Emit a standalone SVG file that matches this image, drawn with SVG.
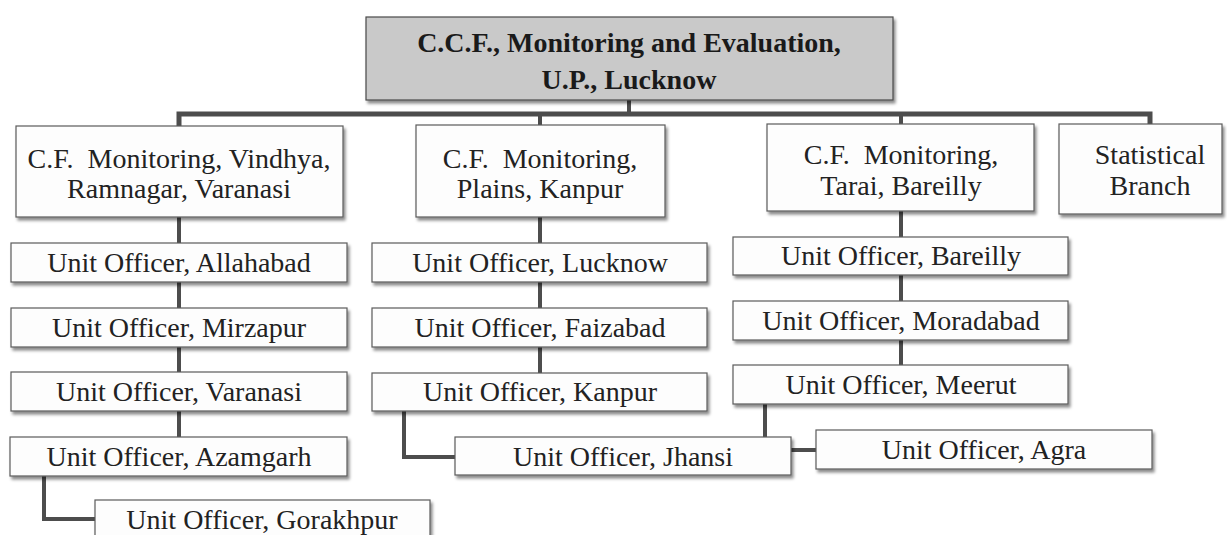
<svg xmlns="http://www.w3.org/2000/svg" width="1227" height="535" viewBox="0 0 1227 535">
<defs>
<filter id="sh" x="-5%" y="-20%" width="110%" height="150%">
<feDropShadow dx="2" dy="3" stdDeviation="1.5" flood-color="#000" flood-opacity="0.45"/>
</filter>
</defs>
<style>
.box{fill:#fdfdfd;stroke:#5a5a5a;stroke-width:1.2;filter:url(#sh)}
.top{fill:#c9c9c9;stroke:#4a4a4a;stroke-width:1.2;filter:url(#sh)}
.t{font-size:28px;fill:#222;text-anchor:middle}
.tb{font-size:28px;font-weight:bold;fill:#1a1a1a;text-anchor:middle}
.c{fill:none;stroke:#4d4d4d;stroke-width:4}
</style>
<rect width="1227" height="535" fill="#fff"/>
<g id="connectors">
<path class="c" d="M629 100V114"/>
<path class="c" style="stroke-width:5" d="M179 126V114H1150V124"/>
<path class="c" d="M540 114V126M901 114V124"/>
<path class="c" d="M179 217V243M179 282V308M179 347V372M179 411V437"/>
<path class="c" d="M44 476V519H95"/>
<path class="c" d="M540 217V243M540 282V308M540 347V373"/>
<path class="c" d="M404 411V457H455"/>
<path class="c" d="M901 211V237M901 275V301M901 340V365"/>
<path class="c" d="M765 404V437"/>
<path class="c" d="M791 450H816"/>
</g>
<g font-family="'Liberation Serif', 'Tinos', 'DejaVu Serif', serif">
<g id="ccf">
<rect class="top" x="366" y="17" width="527" height="83"/>
<text class="tb" x="629" y="52">C.C.F., Monitoring and Evaluation,</text>
<text class="tb" x="629" y="89">U.P., Lucknow</text>
</g>
<g id="cf-vindhya">
<rect class="box" x="16" y="126" width="327" height="91"/>
<text class="t" x="179" y="168" xml:space="preserve">C.F.  Monitoring, Vindhya,</text>
<text class="t" x="179" y="198">Ramnagar, Varanasi</text>
</g>
<g id="cf-plains">
<rect class="box" x="416" y="125" width="249" height="92"/>
<text class="t" x="540" y="168" xml:space="preserve">C.F.  Monitoring,</text>
<text class="t" x="540" y="198">Plains, Kanpur</text>
</g>
<g id="cf-tarai">
<rect class="box" x="767" y="124" width="267" height="87"/>
<text class="t" x="901" y="164" xml:space="preserve">C.F.  Monitoring,</text>
<text class="t" x="901" y="195">Tarai, Bareilly</text>
</g>
<g id="statistical">
<rect class="box" x="1059" y="124" width="163" height="90"/>
<text class="t" x="1150" y="164">Statistical</text>
<text class="t" x="1150" y="195">Branch</text>
</g>
<g id="uo-allahabad">
<rect class="box" x="11" y="243" width="336" height="39"/>
<text class="t" x="179" y="272">Unit Officer, Allahabad</text>
</g>
<g id="uo-mirzapur">
<rect class="box" x="11" y="308" width="336" height="39"/>
<text class="t" x="179" y="337">Unit Officer, Mirzapur</text>
</g>
<g id="uo-varanasi">
<rect class="box" x="11" y="372" width="336" height="39"/>
<text class="t" x="179" y="401">Unit Officer, Varanasi</text>
</g>
<g id="uo-azamgarh">
<rect class="box" x="10" y="437" width="337" height="39"/>
<text class="t" x="179" y="466">Unit Officer, Azamgarh</text>
</g>
<g id="uo-gorakhpur">
<rect class="box" x="95" y="500" width="335" height="42"/>
<text class="t" x="262" y="529">Unit Officer, Gorakhpur</text>
</g>
<g id="uo-lucknow">
<rect class="box" x="372" y="243" width="335" height="39"/>
<text class="t" x="540" y="272">Unit Officer, Lucknow</text>
</g>
<g id="uo-faizabad">
<rect class="box" x="372" y="308" width="335" height="39"/>
<text class="t" x="540" y="337">Unit Officer, Faizabad</text>
</g>
<g id="uo-kanpur">
<rect class="box" x="372" y="373" width="335" height="38"/>
<text class="t" x="540" y="401">Unit Officer, Kanpur</text>
</g>
<g id="uo-jhansi">
<rect class="box" x="455" y="437" width="336" height="38"/>
<text class="t" x="623" y="466">Unit Officer, Jhansi</text>
</g>
<g id="uo-bareilly">
<rect class="box" x="733" y="237" width="335" height="38"/>
<text class="t" x="901" y="265">Unit Officer, Bareilly</text>
</g>
<g id="uo-moradabad">
<rect class="box" x="733" y="301" width="335" height="39"/>
<text class="t" x="901" y="330">Unit Officer, Moradabad</text>
</g>
<g id="uo-meerut">
<rect class="box" x="733" y="365" width="335" height="39"/>
<text class="t" x="901" y="394">Unit Officer, Meerut</text>
</g>
<g id="uo-agra">
<rect class="box" x="816" y="430" width="336" height="39"/>
<text class="t" x="984" y="459">Unit Officer, Agra</text>
</g>
</g>
</svg>
